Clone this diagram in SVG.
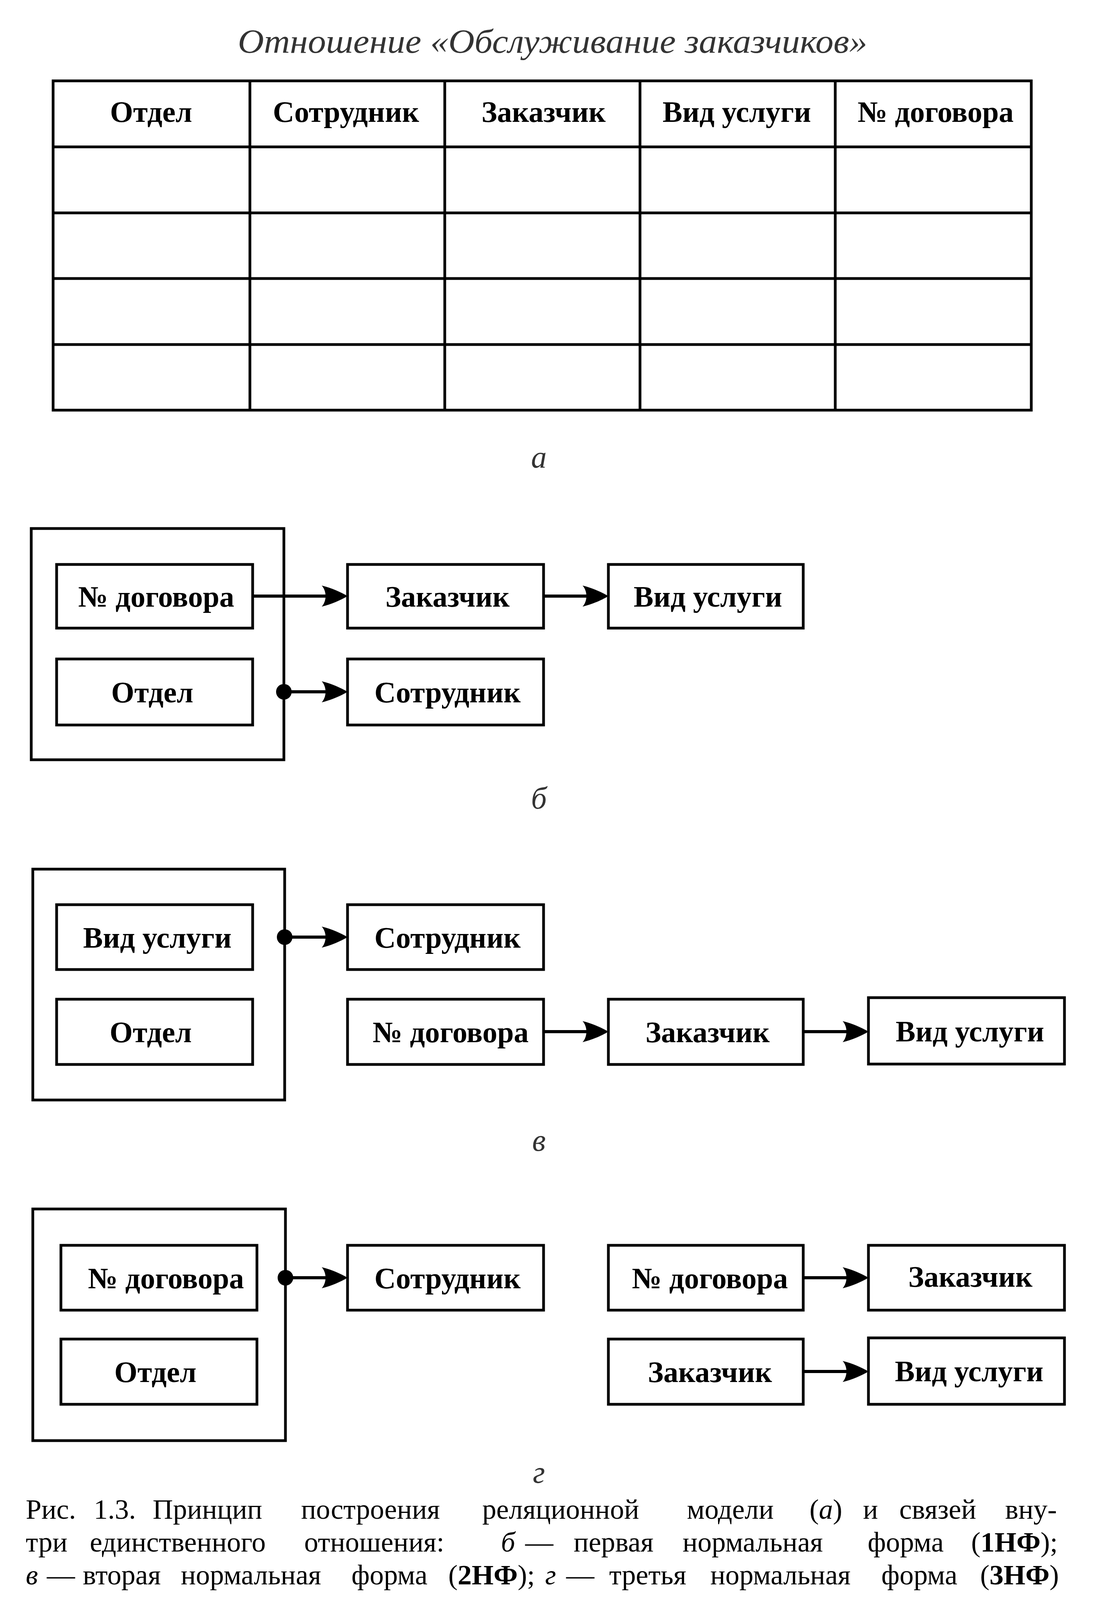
<svg xmlns="http://www.w3.org/2000/svg" width="2817" height="4193" viewBox="0 0 2817 4193">
<style>
.bg{fill:#fff}
.box{fill:#fff;stroke:#000;stroke-width:7}
.grid{fill:none;stroke:#000;stroke-width:7}
.lbl{font-family:"Liberation Serif","Times New Roman",serif;font-weight:bold;font-size:76px;text-anchor:middle;fill:#000}
.title{font-family:"Liberation Serif","Times New Roman",serif;font-style:italic;font-size:86px;text-anchor:middle;fill:#333}
.cap{font-family:"Liberation Serif","Times New Roman",serif;font-style:italic;font-size:80px;text-anchor:middle;fill:#333}
.txt{font-family:"Liberation Serif","Times New Roman",serif;font-size:72px;fill:#000}
.it{font-style:italic}
.b{font-weight:bold}
.conn{stroke:#000;stroke-width:8;fill:none}
.dot{fill:#000}
</style>
<defs>
<marker id="arr" markerUnits="userSpaceOnUse" viewBox="-80 -32 80 64" markerWidth="80" markerHeight="64" refX="-40" refY="0" orient="auto">
<path d="M0,0 C-16,-10 -42,-21 -66,-27 C-53,-12 -53,12 -66,27 C-42,21 -16,10 0,0 Z" fill="#000"/>
</marker>
</defs>
<rect class="bg" x="0" y="0" width="2817" height="4193"/>

<text class="title" x="1415" y="135" textLength="1612" lengthAdjust="spacingAndGlyphs">Отношение «Обслуживание заказчиков»</text>

<g id="table">
<rect class="grid" x="136" y="207" width="2505" height="843"/>
<path class="grid" d="M640,207V1050M1139,207V1050M1639,207V1050M2139,207V1050M136,376H2641M136,545H2641M136,713H2641M136,882H2641"/>
<text class="lbl" x="387" y="312">Отдел</text>
<text class="lbl" x="886" y="312">Сотрудник</text>
<text class="lbl" x="1392" y="312">Заказчик</text>
<text class="lbl" x="1887" y="312">Вид услуги</text>
<text class="lbl" x="2396" y="312">№ договора</text>
</g>
<text class="cap" x="1380" y="1197">а</text>

<!-- section b -->
<g id="b-key"><rect class="box" x="80" y="1353" width="647" height="592"/></g>
<g id="b-dogovor"><rect class="box" x="145" y="1445" width="502" height="163"/><text class="lbl" x="400" y="1553">№ договора</text></g>
<g id="b-otdel"><rect class="box" x="145" y="1687" width="502" height="169"/><text class="lbl" x="390" y="1798">Отдел</text></g>
<g id="b-zakazchik"><rect class="box" x="890" y="1445" width="502" height="163"/><text class="lbl" x="1146" y="1553">Заказчик</text></g>
<g id="b-vid"><rect class="box" x="1558" y="1445" width="499" height="163"/><text class="lbl" x="1813" y="1553">Вид услуги</text></g>
<g id="b-sotr"><rect class="box" x="890" y="1687" width="502" height="169"/><text class="lbl" x="1146" y="1798">Сотрудник</text></g>
<text class="cap" x="1380" y="2070">б</text>

<!-- section v -->
<g id="v-key"><rect class="box" x="84" y="2225" width="645" height="591"/></g>
<g id="v-vid"><rect class="box" x="145" y="2316" width="502" height="166"/><text class="lbl" x="403" y="2426">Вид услуги</text></g>
<g id="v-otdel"><rect class="box" x="145" y="2558" width="502" height="167"/><text class="lbl" x="386" y="2668">Отдел</text></g>
<g id="v-sotr"><rect class="box" x="890" y="2316" width="502" height="166"/><text class="lbl" x="1146" y="2426">Сотрудник</text></g>
<g id="v-dogovor"><rect class="box" x="890" y="2558" width="502" height="167"/><text class="lbl" x="1154" y="2668">№ договора</text></g>
<g id="v-zakazchik"><rect class="box" x="1558" y="2558" width="499" height="167"/><text class="lbl" x="1812" y="2668">Заказчик</text></g>
<g id="v-vid2"><rect class="box" x="2224" y="2554" width="502" height="170"/><text class="lbl" x="2484" y="2666">Вид услуги</text></g>
<text class="cap" x="1380" y="2946">в</text>

<!-- section g -->
<g id="g-key"><rect class="box" x="84" y="3095" width="647" height="593"/></g>
<g id="g-dogovor"><rect class="box" x="156" y="3188" width="502" height="166"/><text class="lbl" x="425" y="3298">№ договора</text></g>
<g id="g-otdel"><rect class="box" x="156" y="3428" width="502" height="167"/><text class="lbl" x="398" y="3538">Отдел</text></g>
<g id="g-sotr"><rect class="box" x="890" y="3188" width="502" height="166"/><text class="lbl" x="1146" y="3298">Сотрудник</text></g>
<g id="g-dogovor2"><rect class="box" x="1558" y="3188" width="499" height="166"/><text class="lbl" x="1818" y="3298">№ договора</text></g>
<g id="g-zakazchik"><rect class="box" x="2224" y="3188" width="502" height="166"/><text class="lbl" x="2485" y="3294">Заказчик</text></g>
<g id="g-zakazchik2"><rect class="box" x="1558" y="3428" width="499" height="167"/><text class="lbl" x="1818" y="3538">Заказчик</text></g>
<g id="g-vid"><rect class="box" x="2224" y="3425" width="502" height="170"/><text class="lbl" x="2482" y="3536">Вид услуги</text></g>
<text class="cap" x="1380" y="3796">г</text>

<g id="connectors">
<line class="conn" x1="647" y1="1526" x2="850" y2="1526" marker-end="url(#arr)"/>
<line class="conn" x1="1392" y1="1526" x2="1518" y2="1526" marker-end="url(#arr)"/>
<line class="conn" x1="727" y1="1771" x2="850" y2="1771" marker-end="url(#arr)"/>
<circle class="dot" cx="727" cy="1771" r="20"/>
<line class="conn" x1="729" y1="2399" x2="850" y2="2399" marker-end="url(#arr)"/>
<circle class="dot" cx="729" cy="2399" r="20"/>
<line class="conn" x1="1392" y1="2641" x2="1518" y2="2641" marker-end="url(#arr)"/>
<line class="conn" x1="2057" y1="2641" x2="2184" y2="2641" marker-end="url(#arr)"/>
<line class="conn" x1="731" y1="3271" x2="850" y2="3271" marker-end="url(#arr)"/>
<circle class="dot" cx="731" cy="3271" r="20"/>
<line class="conn" x1="2057" y1="3271" x2="2184" y2="3271" marker-end="url(#arr)"/>
<line class="conn" x1="2057" y1="3511" x2="2184" y2="3511" marker-end="url(#arr)"/>
</g>

<g id="caption">
<text class="txt" y="3888"><tspan x="66">Рис.</tspan><tspan x="240">1.3.</tspan><tspan x="391">Принцип</tspan><tspan x="771">построения</tspan><tspan x="1235">реляционной</tspan><tspan x="1759">модели</tspan><tspan x="2073">(</tspan><tspan class="it">а</tspan><tspan>)</tspan><tspan x="2210">и</tspan><tspan x="2303">связей</tspan><tspan x="2574">вну-</tspan></text>
<text class="txt" y="3972"><tspan x="66">три</tspan><tspan x="230">единственного</tspan><tspan x="779">отношения:</tspan><tspan x="1283" class="it">б</tspan><tspan x="1345">—</tspan><tspan x="1469">первая</tspan><tspan x="1748">нормальная</tspan><tspan x="2222">форма</tspan><tspan x="2487">(</tspan><tspan class="b">1НФ</tspan><tspan>);</tspan></text>
<text class="txt" y="4056"><tspan x="66" class="it">в</tspan><tspan x="120">—</tspan><tspan x="212">вторая</tspan><tspan x="463">нормальная</tspan><tspan x="900">форма</tspan><tspan x="1148">(</tspan><tspan class="b">2НФ</tspan><tspan>);</tspan><tspan x="1396" class="it">г</tspan><tspan x="1450">—</tspan><tspan x="1560">третья</tspan><tspan x="1819">нормальная</tspan><tspan x="2257">форма</tspan><tspan x="2510">(</tspan><tspan class="b">3НФ</tspan><tspan>)</tspan></text>
</g>
</svg>
